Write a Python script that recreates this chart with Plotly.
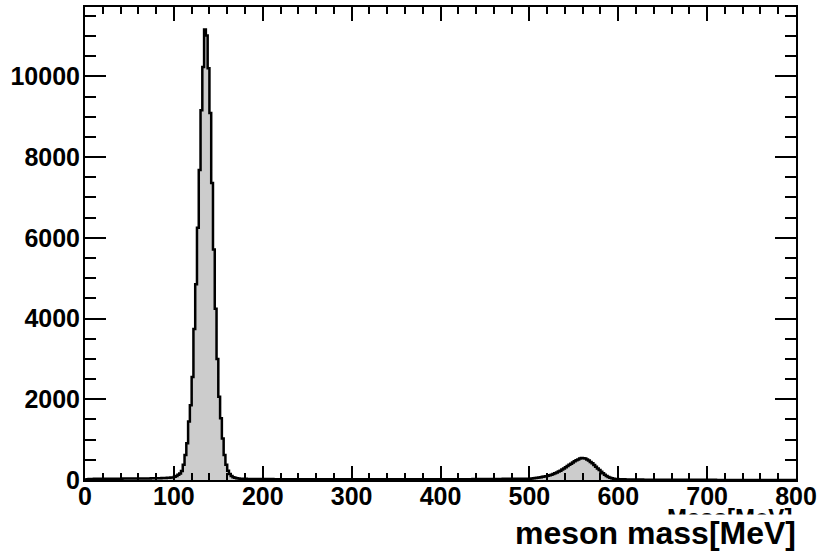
import plotly.graph_objects as go

# 2 MeV bins from 0 to 800 MeV, counts (per 100 MeV block)
bin_width = 2
x_min, x_max = 0, 800

counts_000_100 = [12, 18, 22, 25, 27, 28, 29, 30, 30, 31,
                  31, 32, 32, 32, 33, 33, 33, 34, 34, 34,
                  34, 35, 35, 35, 35, 36, 36, 36, 37, 37,
                  37, 38, 38, 39, 39, 40, 40, 41, 42, 43,
                  44, 45, 46, 47, 49, 51, 53, 56, 60, 65]
counts_100_200 = [80, 100, 130, 160, 220, 380, 620, 910, 1450, 1850,
                  2550, 3740, 4850, 6250, 7680, 9160, 10230, 11160, 11010, 10200,
                  9090, 7360, 5710, 4240, 3000, 2060, 1530, 1030, 620, 380,
                  230, 150, 100, 70, 55, 45, 38, 34, 31, 29,
                  28, 27, 26, 26, 25, 25, 24, 24, 24, 23]
counts_200_300 = [23, 23, 22, 22, 22, 22, 21, 21, 21, 21,
                  21, 20, 20, 20, 20, 20, 20, 19, 19, 19,
                  19, 19, 19, 19, 18, 18, 18, 18, 18, 18,
                  18, 19, 18, 18, 17, 18, 18, 19, 18, 18,
                  18, 17, 18, 18, 18, 19, 18, 18, 17, 18]
counts_300_400 = [18, 19, 18, 18, 17, 18, 18, 19, 18, 18,
                  18, 18, 17, 18, 18, 18, 19, 18, 18, 18,
                  17, 18, 18, 19, 18, 18, 18, 17, 18, 18,
                  18, 19, 18, 18, 18, 18, 17, 18, 18, 19,
                  18, 18, 18, 18, 19, 19, 18, 19, 19, 19]
counts_400_500 = [19, 19, 19, 19, 19, 19, 20, 20, 20, 20,
                  20, 20, 20, 21, 21, 21, 21, 21, 22, 22,
                  22, 22, 23, 23, 23, 24, 24, 24, 25, 25,
                  25, 26, 26, 27, 27, 28, 28, 29, 29, 30,
                  30, 30, 31, 31, 31, 31, 31, 32, 32, 32]
counts_500_600 = [32, 36, 42, 48, 55, 62, 70, 78, 86, 95,
                  105, 118, 132, 148, 166, 186, 208, 232, 258, 285,
                  315, 345, 375, 405, 435, 462, 487, 507, 532, 542,
                  540, 530, 510, 480, 448, 412, 372, 330, 287, 245,
                  205, 166, 131, 101, 75, 55, 41, 32, 26, 23]
counts_600_700 = [21, 19, 17, 16, 15, 14, 13, 12, 12, 11,
                  11, 10, 10, 10, 9, 9, 9, 9, 8, 8,
                  8, 8, 8, 7, 7, 7, 7, 7, 7, 6,
                  6, 6, 6, 6, 6, 5, 5, 5, 5, 5,
                  5, 5, 5, 5, 4, 4, 4, 4, 4, 4]
counts_700_800 = [4, 4, 4, 4, 4, 3, 3, 3, 3, 3,
                  3, 3, 3, 3, 3, 3, 3, 3, 2, 2,
                  2, 2, 2, 2, 2, 2, 2, 2, 2, 2,
                  2, 2, 2, 2, 2, 1, 1, 1, 1, 1,
                  1, 1, 1, 1, 1, 1, 1, 1, 1, 1]

x_tick_vals = [0, 100, 200, 300, 400, 500, 600, 700, 800]
y_tick_vals = [0, 2000, 4000, 6000, 8000, 10000]

counts = (counts_000_100 + counts_100_200 + counts_200_300 + counts_300_400
          + counts_400_500 + counts_500_600 + counts_600_700 + counts_700_800)
edges = [x_min + i * bin_width for i in range(len(counts) + 1)]
step_y = counts + [counts[-1]]

y_top = max(counts) * 1.05

W, H = 821, 552
L, R, T, B = 85, 25, 7, 72
pw, ph = W - L - R, H - T - B


def px_to_paper_x(px):
    return (px - L) / pw


def px_to_paper_y(py):
    return (H - B - py) / ph


fig = go.Figure()
fig.add_trace(go.Scatter(
    x=edges, y=step_y, mode="lines",
    line=dict(shape="hv", color="black", width=2.5),
    fill="tozeroy", fillcolor="#cccccc",
    hoverinfo="skip", showlegend=False,
))

font_family = "Liberation Sans, Arial, Helvetica, sans-serif"

fig.update_layout(
    width=W, height=H,
    margin=dict(l=L, r=R, t=T, b=B, pad=0, autoexpand=False),
    paper_bgcolor="white", plot_bgcolor="white",
    showlegend=False,
    font=dict(family=font_family, color="black"),
)

fig.update_xaxes(
    range=[x_min, x_max], tickvals=x_tick_vals, ticktext=[str(v) for v in x_tick_vals],
    ticks="inside", ticklen=14, tickwidth=1.5, tickcolor="black",
    minor=dict(dtick=20, ticks="inside", ticklen=7, tickwidth=1.5, tickcolor="black"),
    showline=True, linecolor="black", linewidth=2, mirror="allticks",
    showgrid=False, zeroline=False, automargin=False,
    ticklabelstandoff=-7,
    tickfont=dict(size=25, family=font_family, weight="bold", color="black"),
)
fig.update_yaxes(
    range=[0, y_top], tickvals=y_tick_vals, ticktext=[str(v) for v in y_tick_vals],
    ticks="inside", ticklen=21, tickwidth=1.5, tickcolor="black",
    minor=dict(dtick=500, ticks="inside", ticklen=11, tickwidth=1.5, tickcolor="black"),
    showline=True, linecolor="black", linewidth=2, mirror="allticks",
    showgrid=False, zeroline=False, automargin=False,
    ticklabelstandoff=-2,
    tickfont=dict(size=25, family=font_family, weight="bold", color="black"),
)

fig.add_annotation(
    text="Mass[MeV]", xref="paper", yref="paper",
    x=px_to_paper_x(794), y=px_to_paper_y(517),
    xanchor="right", yanchor="middle", showarrow=False,
    font=dict(size=24, family=font_family, weight="bold", color="black"),
)
fig.add_annotation(
    text="meson mass[MeV]", xref="paper", yref="paper",
    x=px_to_paper_x(797), y=px_to_paper_y(533),
    xanchor="right", yanchor="middle", showarrow=False,
    bgcolor="white", borderpad=0,
    font=dict(size=32, family=font_family, weight="bold", color="black"),
)

fig.write_html("out.html", config={"displayModeBar": False},
               post_script="document.body.style.margin='0';")
